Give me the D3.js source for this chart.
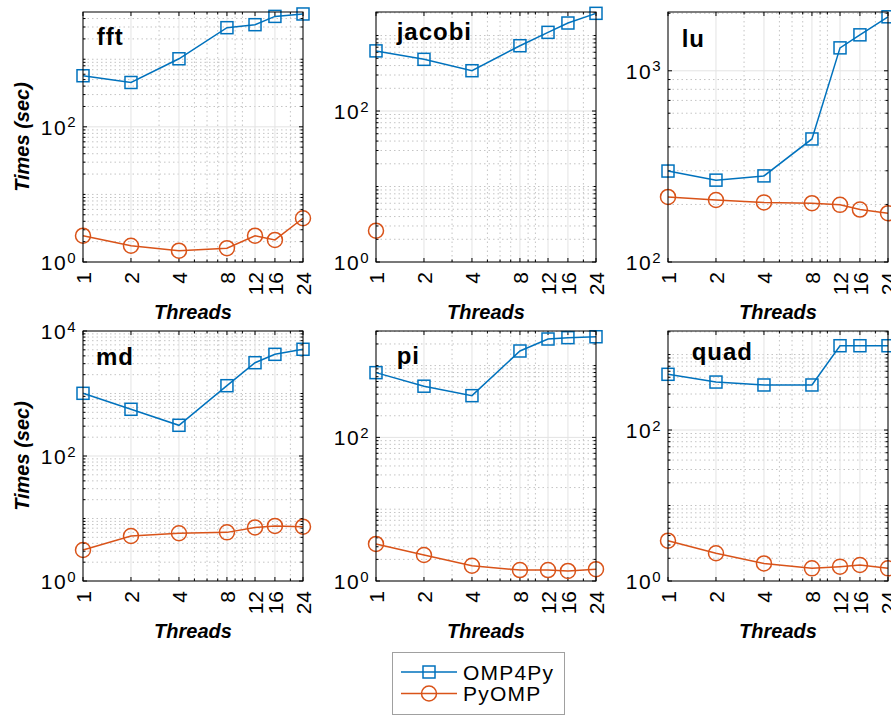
<!DOCTYPE html>
<meta charset="utf-8">
<style>
body { margin: 0; background: #fff; }
text { font-family: "Liberation Sans", Arial, sans-serif; fill: #000; }
.title { font-size: 24px; font-weight: bold; letter-spacing: 1px; }
.alabel { font-size: 20px; font-weight: bold; font-style: italic; }
.tick text { font-size: 21px; }
.ylab text { letter-spacing: 1.5px; }
.grid-major { stroke: #e3e3e3; stroke-width: 1; }
.grid-minor { stroke: #c4c4c4; stroke-width: 1; stroke-dasharray: 1.5,3; }
</style>
<script src="https://d3js.org/d3.v7.min.js"></script>
<svg width="891" height="716"></svg>
<script>

var threads = [1, 2, 4, 8, 12, 16, 24];
var xMinor = [3, 5, 6, 7, 9, 10, 20];
var benchmarks = ["fft", "jacobi", "lu", "md", "pi", "quad"];
var seriesNames = ["OMP4Py", "PyOMP"];

// measured run times (sec)
var fftOMP4Py    = [570, 453, 1016, 2930, 3245, 4305, 4675];
var fftPyOMP     = [2.45, 1.74, 1.47, 1.6, 2.45, 2.12, 4.44];
var jacobiOMP4Py = [626, 484, 342, 733, 1102, 1465, 1968];
var jacobiPyOMP  = [2.6, null, null, null, null, null, null];
var luOMP4Py     = [299, 268, 282, 440, 1318, 1542, 1916];
var luPyOMP      = [219, 211, 205, 203, 199, 188, 180];
var mdOMP4Py     = [1007, 559, 310, 1333, 3110, 4235, 5100];
var mdPyOMP      = [3.13, 5.25, 5.8, 6.0, 7.2, 7.6, 7.4];
var piOMP4Py     = [797, 516, 381, 1596, 2344, 2448, 2520];
var piPyOMP      = [3.28, 2.30, 1.63, 1.42, 1.42, 1.38, 1.46];
var quadOMP4Py   = [547, 432, 395, 395, 1308, 1308, 1308];
var quadPyOMP    = [3.42, 2.33, 1.71, 1.47, 1.55, 1.63, 1.47];

// y limits and labelled ticks per panel
var yLimits = [[1, 5000], [1, 2050], [100, 2030], [1, 10000], [1, 3030], [1, 2050]];
var yTicks  = [[1, 100], [1, 100], [100, 1000], [1, 100, 10000], [1, 100], [1, 100]];

var omp4py = [fftOMP4Py, jacobiOMP4Py, luOMP4Py, mdOMP4Py, piOMP4Py, quadOMP4Py];
var pyomp  = [fftPyOMP, jacobiPyOMP, luPyOMP, mdPyOMP, piPyOMP, quadPyOMP];

var colors = ["#0072BD", "#D95319"];
var colLeft = [83, 376, 668];
var rowTop = [12, 331];
var W = 220, H = 250;
var titleOff = [[13.7, 33], [20.7, 28], [13.7, 34.5], [13, 34], [20.7, 33], [23.7, 29]];

var svg = d3.select("svg");

function marker(g, k, cx, cy) {
  if (k === 0) {
    g.append("rect").attr("x", cx - 6).attr("y", cy - 6).attr("width", 12).attr("height", 12)
      .attr("fill", "none").attr("stroke", colors[0]).attr("stroke-width", 1.5);
  } else {
    g.append("circle").attr("cx", cx).attr("cy", cy).attr("r", 7.5)
      .attr("fill", "none").attr("stroke", colors[1]).attr("stroke-width", 1.5);
  }
}

benchmarks.forEach(function(name, i) {
  var left = colLeft[i % 3], top = rowTop[Math.floor(i / 3)];
  var x = d3.scaleLog().base(2).domain([1, 24]).range([left, left + W]);
  var y = d3.scaleLog().domain(yLimits[i]).range([top + H, top]);
  var g = svg.append("g");

  // minor y values
  var lo = Math.log10(yLimits[i][0]), hi = Math.log10(yLimits[i][1]);
  var yMinor = [];
  for (var e = Math.floor(lo); e <= Math.ceil(hi); e++) {
    for (var m = 1; m <= 9; m++) {
      var v = m * Math.pow(10, e);
      if (v > yLimits[i][0] && v < yLimits[i][1] && yTicks[i].indexOf(v) < 0) yMinor.push(v);
    }
  }

  g.selectAll(".gx").data(xMinor).enter().append("line").attr("class", "grid-minor")
    .attr("x1", x).attr("x2", x).attr("y1", top).attr("y2", top + H);
  g.selectAll(".gy").data(yMinor).enter().append("line").attr("class", "grid-minor")
    .attr("y1", y).attr("y2", y).attr("x1", left).attr("x2", left + W);
  g.selectAll(".gX").data(threads).enter().append("line").attr("class", "grid-major")
    .attr("x1", x).attr("x2", x).attr("y1", top).attr("y2", top + H);
  g.selectAll(".gY").data(yTicks[i]).enter().append("line").attr("class", "grid-major")
    .attr("y1", y).attr("y2", y).attr("x1", left).attr("x2", left + W);

  // inward tick marks on all four sides
  var tk = g.append("g").attr("stroke", "#000").attr("stroke-width", 1);
  threads.concat(xMinor).forEach(function(t) {
    var len = threads.indexOf(t) >= 0 ? 4 : 2.5;
    tk.append("line").attr("x1", x(t)).attr("x2", x(t)).attr("y1", top + H).attr("y2", top + H - len);
    tk.append("line").attr("x1", x(t)).attr("x2", x(t)).attr("y1", top).attr("y2", top + len);
  });
  yTicks[i].concat(yMinor).forEach(function(t) {
    var len = yTicks[i].indexOf(t) >= 0 ? 4 : 2.5;
    tk.append("line").attr("y1", y(t)).attr("y2", y(t)).attr("x1", left).attr("x2", left + len);
    tk.append("line").attr("y1", y(t)).attr("y2", y(t)).attr("x1", left + W).attr("x2", left + W - len);
  });

  // x axis labels
  var xa = g.append("g").attr("transform", "translate(0," + (top + H) + ")")
    .call(d3.axisBottom(x).tickValues(threads).tickFormat(d3.format("d")).tickSize(0).tickPadding(0));
  xa.select(".domain").remove();
  xa.selectAll(".tick text")
    .attr("transform", "translate(0,10) rotate(-90)")
    .attr("text-anchor", "end").attr("x", 0).attr("y", 0).attr("dy", "0.36em");

  // y axis labels as 10^n
  var ya = g.append("g").attr("class", "ylab").attr("transform", "translate(" + left + ",0)")
    .call(d3.axisLeft(y).tickValues(yTicks[i]).tickSize(0).tickPadding(6));
  ya.select(".domain").remove();
  ya.selectAll(".tick text").each(function(d) {
    var t = d3.select(this).text(null).attr("dy", "0.36em");
    t.append("tspan").text("10");
    t.append("tspan").attr("dy", "-0.5em").attr("font-size", "15px").text(Math.round(Math.log10(d)));
  });

  // lines and markers
  [omp4py[i], pyomp[i]].forEach(function(vals, k) {
    var pts = threads.map(function(t, j) { return { t: t, v: vals[j] }; });
    g.append("path").datum(pts)
      .attr("fill", "none").attr("stroke", colors[k]).attr("stroke-width", 1.5)
      .attr("d", d3.line().defined(function(d) { return d.v != null; })
        .x(function(d) { return x(d.t); }).y(function(d) { return y(d.v); }));
    pts.forEach(function(d) { if (d.v != null) marker(g, k, x(d.t), y(d.v)); });
  });

  g.append("rect").attr("x", left).attr("y", top).attr("width", W).attr("height", H)
    .attr("fill", "none").attr("stroke", "#000").attr("stroke-width", 1);

  g.append("text").attr("class", "title")
    .attr("x", left + titleOff[i][0]).attr("y", top + titleOff[i][1]).text(name);

  g.append("text").attr("class", "alabel").attr("text-anchor", "middle")
    .attr("x", left + W / 2).attr("y", top + H + 57).text("Threads");

  if (i % 3 === 0) {
    g.append("text").attr("class", "alabel").attr("text-anchor", "middle")
      .attr("transform", "translate(29," + (top + H / 2) + ") rotate(-90)").text("Times (sec)");
  }
});

// legend
var lg = svg.append("g");
lg.append("rect").attr("x", 392.5).attr("y", 652.5).attr("width", 172).attr("height", 62)
  .attr("fill", "#fff").attr("stroke", "#a0a0a0").attr("stroke-width", 1);
seriesNames.forEach(function(s, k) {
  var ly = 672 + k * 21.5;
  lg.append("line").attr("x1", 401).attr("x2", 457).attr("y1", ly).attr("y2", ly)
    .attr("stroke", colors[k]).attr("stroke-width", 1.5);
  marker(lg, k, 429, ly);
  lg.append("text").attr("x", 463).attr("y", ly + 7.5)
    .style("font-size", "21px").style("letter-spacing", "1.2px").text(s);
});

</script>
